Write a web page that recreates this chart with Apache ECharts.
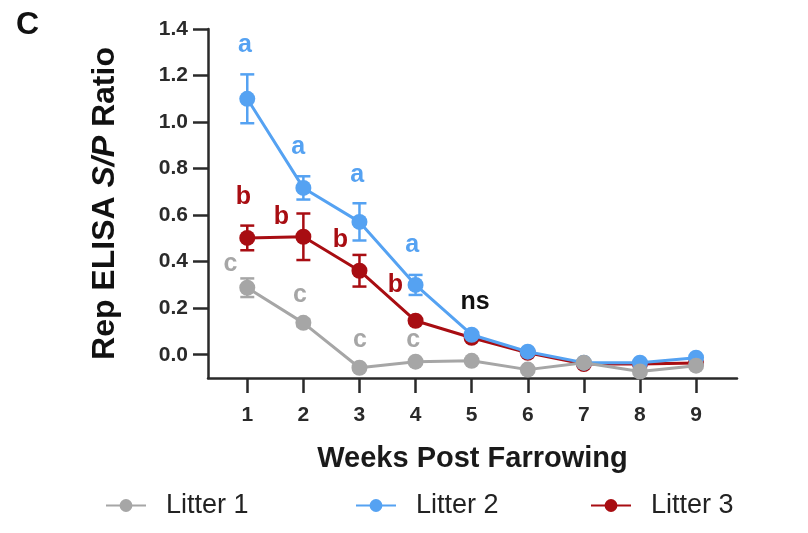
<!DOCTYPE html>
<html><head><meta charset="utf-8">
<script src="https://cdn.jsdelivr.net/npm/echarts@6/dist/echarts.min.js"></script>
<style>html,body{margin:0;padding:0;background:#fff}#c{width:808px;height:533px}</style>
</head><body><div id="c"></div>
<script>
const weeks = [1, 2, 3, 4, 5, 6, 7, 8, 9];
const litter1 = [0.288, 0.137, -0.056, -0.03, -0.026, -0.064, -0.034, -0.072, -0.047];
const litter1Err = [0.04, 0.015, 0, 0, 0, 0, 0, 0, 0];
const litter2 = [1.10, 0.717, 0.571, 0.30, 0.086, 0.013, -0.034, -0.034, -0.013];
const litter2Err = [0.105, 0.05, 0.08, 0.043, 0.01, 0, 0, 0, 0];
const litter3 = [0.502, 0.507, 0.361, 0.146, 0.073, 0.008, -0.04, -0.04, -0.035];
const litter3Err = [0.053, 0.10, 0.068, 0, 0, 0, 0, 0, 0];
const yTicks = [0, 0.2, 0.4, 0.6, 0.8, 1.0, 1.2, 1.4];
const seriesNames = ['Litter 1', 'Litter 2', 'Litter 3'];
// significance letters: text, x, y (data coords), series index (-1 = black)
const annoText = ['a', 'a', 'a', 'a', 'b', 'b', 'b', 'b', 'c', 'c', 'c', 'c', 'ns'];
const annoX = [0.96, 1.91, 2.96, 3.94, 0.93, 1.61, 2.66, 3.64, 0.70, 1.94, 3.01, 3.96, 5.06];
const annoY = [1.331, 0.893, 0.773, 0.472, 0.678, 0.593, 0.494, 0.30, 0.39, 0.258, 0.064, 0.064, 0.228];
const annoSeries = [1, 1, 1, 1, 2, 2, 2, 2, 0, 0, 0, 0, -1];

const colors = ['#a6a6a6', '#55a2f2', '#a80d12'];
const font = 'Liberation Sans, Arial, sans-serif';

function lineSeries(name, vals, color, z) {
  return {
    name: name, type: 'line', data: weeks.map((w, i) => [w, vals[i]]),
    symbol: 'circle', symbolSize: 16, z: z,
    lineStyle: { color: color, width: 3 }, itemStyle: { color: color },
    emphasis: { disabled: true }
  };
}
function errSeries(vals, errs, color, z) {
  return {
    type: 'custom', z: z, silent: true,
    data: weeks.map((w, i) => [w, vals[i] - errs[i], vals[i] + errs[i]]).filter((d, i) => errs[i] > 0),
    renderItem: function (params, api) {
      const lo = api.coord([api.value(0), api.value(1)]);
      const hi = api.coord([api.value(0), api.value(2)]);
      const cw = 7;
      const st = { stroke: color, lineWidth: 2.5 };
      return { type: 'group', children: [
        { type: 'line', shape: { x1: lo[0], y1: lo[1], x2: hi[0], y2: hi[1] }, style: st },
        { type: 'line', shape: { x1: lo[0] - cw, y1: lo[1], x2: lo[0] + cw, y2: lo[1] }, style: st },
        { type: 'line', shape: { x1: hi[0] - cw, y1: hi[1], x2: hi[0] + cw, y2: hi[1] }, style: st }
      ] };
    }
  };
}
function legendAt(name, left) {
  return {
    data: [name], left: left, top: 492, padding: 0, itemWidth: 40, itemHeight: 16,
    selectedMode: false,
    textStyle: { fontFamily: font, fontSize: 27, color: '#222', padding: [0, 0, 0, 15] }
  };
}

const chart = echarts.init(document.getElementById('c'));
chart.setOption({
  animation: false,
  grid: { left: 208, top: 29, right: 71, bottom: 155, containLabel: false },
  graphic: [{ type: 'text', left: 16, top: 9, style: { text: 'C', font: 'bold 32px ' + font, fill: '#111' } }],
  legend: [legendAt(seriesNames[0], 105), legendAt(seriesNames[1], 355), legendAt(seriesNames[2], 590)],
  xAxis: {
    type: 'value', min: 0.3, max: 9.73,
    name: 'Weeks Post Farrowing', nameLocation: 'middle', nameGap: 66,
    nameTextStyle: { fontFamily: font, fontSize: 29, fontWeight: 'bold', color: '#1a1a1a' },
    axisLine: { show: true, onZero: false, lineStyle: { color: '#2a2a2a', width: 2.5 } },
    axisTick: { show: true, length: 15, customValues: weeks, lineStyle: { color: '#2a2a2a', width: 2.5 } },
    axisLabel: { customValues: weeks, fontFamily: font, fontSize: 21, fontWeight: 'bold', color: '#2a2a2a', margin: 27 },
    splitLine: { show: false }
  },
  yAxis: {
    type: 'value', min: -0.1, max: 1.4,
    name: '{b|Rep ELISA }{i|S/P}{b| Ratio}', nameLocation: 'middle', nameGap: 87, nameRotate: 90,
    nameTextStyle: { rich: {
      b: { fontFamily: font, fontSize: 32, fontWeight: 'bold', color: '#111' },
      i: { fontFamily: font, fontSize: 32, fontWeight: 'bold', fontStyle: 'italic', color: '#111' }
    } },
    axisLine: { show: true, onZero: false, lineStyle: { color: '#2a2a2a', width: 2.5 } },
    axisTick: { show: true, length: 15, customValues: yTicks, lineStyle: { color: '#2a2a2a', width: 2.5 } },
    axisLabel: { customValues: yTicks, formatter: v => v.toFixed(1), fontFamily: font, fontSize: 21, fontWeight: 'bold', color: '#2a2a2a', margin: 20 },
    splitLine: { show: false }
  },
  series: [
    errSeries(litter3, litter3Err, colors[2], 2),
    lineSeries(seriesNames[2], litter3, colors[2], 3),
    errSeries(litter2, litter2Err, colors[1], 4),
    lineSeries(seriesNames[1], litter2, colors[1], 5),
    errSeries(litter1, litter1Err, colors[0], 6),
    lineSeries(seriesNames[0], litter1, colors[0], 7),
    {
      type: 'scatter', symbolSize: 1, silent: true, z: 10, itemStyle: { opacity: 0 },
      data: annoText.map((t, i) => ({
        value: [annoX[i], annoY[i]],
        label: { show: true, position: 'inside', formatter: t,
          fontFamily: font, fontSize: 25, fontWeight: 'bold', opacity: 1,
          color: annoSeries[i] >= 0 ? colors[annoSeries[i]] : '#111' }
      }))
    }
  ]
});
</script></body></html>
